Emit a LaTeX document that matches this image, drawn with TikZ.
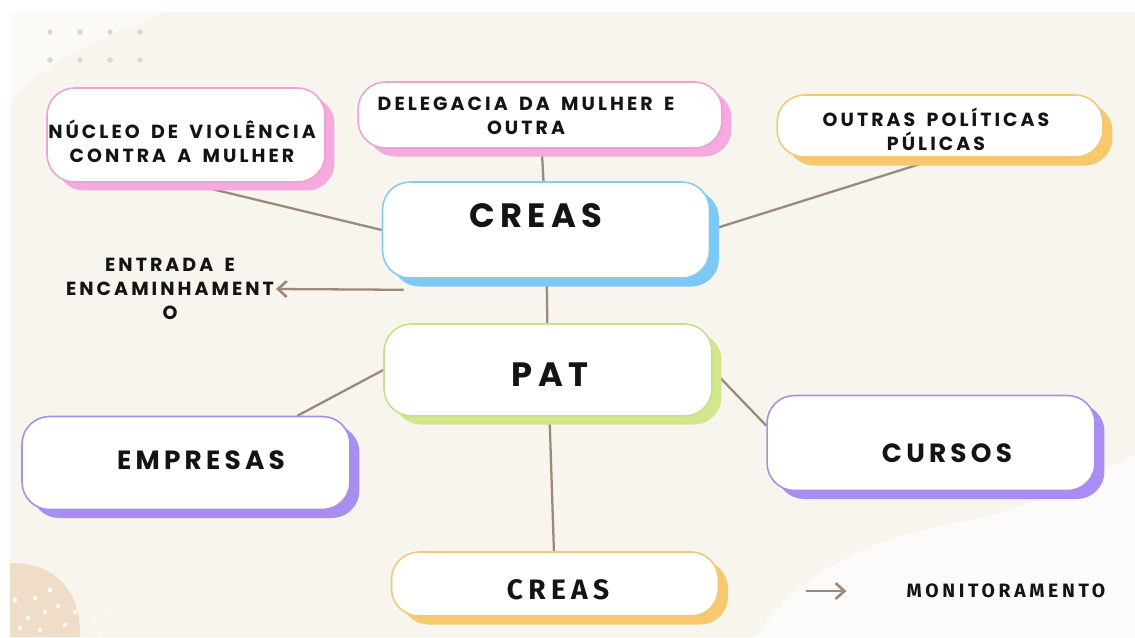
\documentclass[tikz,border=0pt]{standalone}
\usepackage{fontspec}
\usetikzlibrary{shadows,backgrounds,arrows.meta,calc}
\newfontfamily\boxfont[LetterSpace=16,WordSpace=1.6]{Poppins}
\newfontfamily\dinfont[LetterSpace=19]{Fira Sans}
\definecolor{bgbeige}{HTML}{F8F4EE}
\definecolor{blobtan}{HTML}{EFDDC8}
\definecolor{dotgray}{HTML}{DCD8D0}
\definecolor{linkbrown}{HTML}{9C8978}
\definecolor{ink}{HTML}{141414}
\definecolor{pinkbd}{HTML}{EAA3D8}
\definecolor{pinksh}{HTML}{F6A9DC}
\definecolor{bluebd}{HTML}{86CCEE}
\definecolor{bluesh}{HTML}{7CC9F6}
\definecolor{greenbd}{HTML}{C9DF8C}
\definecolor{greensh}{HTML}{D2E68C}
\definecolor{purplebd}{HTML}{A890E6}
\definecolor{purplesh}{HTML}{A98DF2}
\definecolor{orangebd}{HTML}{EEC978}
\definecolor{orangesh}{HTML}{F8C86D}
\begin{document}
\begin{tikzpicture}[x=0.02cm,y=-0.02cm,
    box/.style 2 args={draw=#1,fill=white,line width=0.9pt,rounded corners=0.55cm,
      general shadow={fill=#2,shadow xshift=0.19cm,shadow yshift=-0.17cm}},
    small/.style={font=\boxfont\bfseries\fontsize{10.8}{13.5}\selectfont,align=center,text=ink,inner sep=1pt},
    mid/.style={font=\boxfont\bfseries\fontsize{15}{17}\selectfont,text=ink,inner sep=0pt},
    big/.style={font=\boxfont\bfseries\fontsize{19.2}{21}\selectfont,text=ink,inner sep=0pt},
    din/.style={font=\dinfont\bfseries\fontsize{#1}{14}\selectfont,text=ink,inner sep=0pt},
    link/.style={draw=linkbrown,line width=1.3pt},
    tip/.style={link,-{Straight Barb[length=5pt,width=9pt,line width=1.5pt]}}]
  \useasboundingbox (0,0) rectangle (1135,637);
  % boxes
  \node[box={pinkbd}{pinksh},minimum width=5.56cm,minimum height=1.88cm] (nucleo) at (186,135) {};
  \node[box={pinkbd}{pinksh},minimum width=7.28cm,minimum height=1.32cm] (delegacia) at (540,115) {};
  \node[box={orangebd}{orangesh},minimum width=6.52cm,minimum height=1.24cm] (outras) at (940,126) {};
  \node[box={bluebd}{bluesh},minimum width=6.54cm,minimum height=1.92cm] (creas) at (546,230) {};
  \node[box={greenbd}{greensh},minimum width=6.56cm,minimum height=1.84cm] (pat) at (548,370) {};
  \node[box={purplebd}{purplesh},minimum width=6.56cm,minimum height=1.86cm] (empresas) at (186,463) {};
  \node[box={purplebd}{purplesh},minimum width=6.56cm,minimum height=1.9cm] (cursos) at (931,443) {};
  \node[box={orangebd}{orangesh},minimum width=6.54cm,minimum height=1.28cm] (creasb) at (555,584) {};
  % texts
  \node[small] (nucleotxt) at (182,141) {NÚCLEO DE VIOLÊNCIA\\CONTRA A MULHER};
  \node[small] (delegaciatxt) at (526,116) {DELEGACIA DA MULHER E\\OUTRA};
  \node[small] (outrastxt) at (936,129) {OUTRAS POLÍTICAS\\PÚLICAS};
  \node[big] (creastxt) at (536,216) {CREAS};
  \node[big] (pattxt) at (550,375) {PAT};
  \node[mid] (empresastxt) at (201,460) {EMPRESAS};
  \node[mid] (cursostxt) at (947,453) {CURSOS};
  \node[din=16] (creasbtxt) at (558,590) {CREAS};
  \node[small] (entrada) at (170,289) {ENTRADA E\\ENCAMINHAMENT\\O};
  \node[din=11] (monit) at (1006,591) {MONITORAMENTO};
  % arrows
  \draw[tip] ([shift={(0.44cm,-0.22cm)}]creas.south west) -- (entrada.east);
  \draw[tip] ([xshift=-2cm]monit.west) -- ([xshift=-1.2cm]monit.west);
  \begin{scope}[on background layer]
    \fill[bgbeige] (10,12) rectangle (1135,637);
    \fill[white!55!bgbeige] (10,12) -- (165,12) .. controls (100,40) and (40,60) .. (10,105) -- cycle;
    \foreach \x in {50,80,110,140}
      \foreach \y in {32,60}
        \fill[dotgray] (\x,\y) circle (1.6pt);
    \fill[white!65!bgbeige] (755,637) .. controls (800,575) and (860,540) .. (960,522)
      .. controls (1050,505) and (1100,470) .. (1135,455) -- (1135,637) -- cycle;
    \fill[blobtan] (10,563) .. controls (55,562) and (82,592) .. (80,637) -- (10,637) -- cycle;
    \foreach \x/\y in {15/600,35/598,45/612,28/618,58/606,20/628,40/630,65/625,75/612,50/590,95/620,110/615,100/633}
      \fill[white!80!blobtan] (\x,\y) circle (1.3pt);
    \draw[white,line width=0.8pt] (1085,12) arc (180:250:90);
    \draw[white,line width=0.8pt] (1100,12) arc (180:250:75);
    % links
    \draw[link] (nucleo.south) -- (creas.west);
    \draw[link] (delegacia) -- (creas);
    \draw[link] (outras.south) -- (creas.east);
    \draw[link] (creas) -- (pat);
    \draw[link] (pat.west) -- (empresas.23);
    \draw[link] (pat.east) -- (cursos.174);
    \draw[link] (pat) -- (creasb);
  \end{scope}
\end{tikzpicture}
\end{document}
